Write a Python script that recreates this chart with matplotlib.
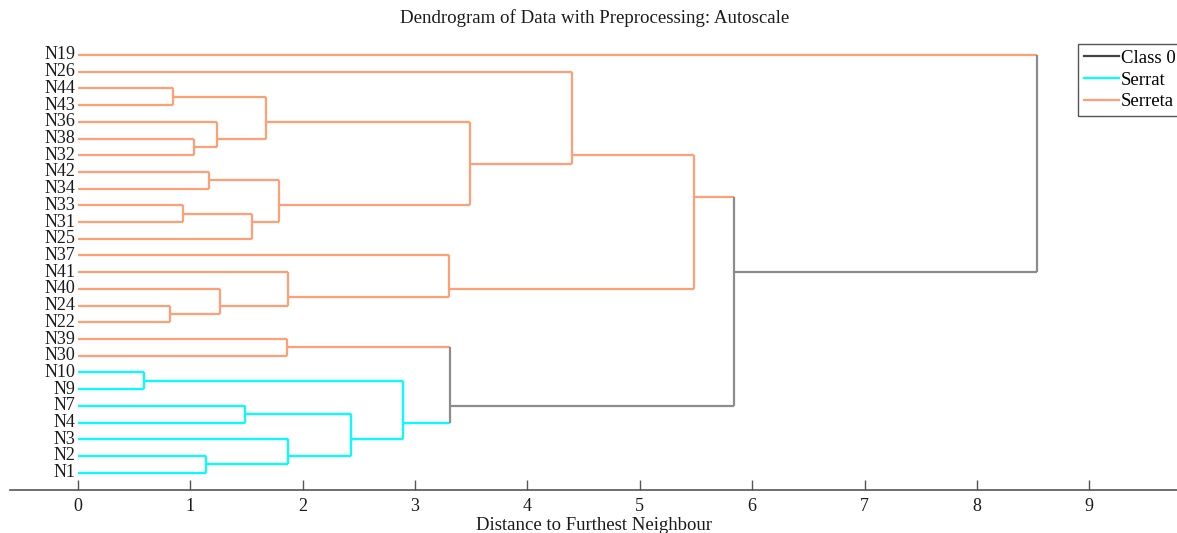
import matplotlib
matplotlib.use("Agg")
import matplotlib.pyplot as plt
from matplotlib.lines import Line2D

plt.rcParams['font.family'] = ['Liberation Serif', 'DejaVu Serif']

# leaves, top to bottom
leaves = ["N19", "N26", "N44", "N43", "N36", "N38", "N32", "N42", "N34", "N33",
          "N31", "N25", "N37", "N41", "N40", "N24", "N22", "N39", "N30", "N10",
          "N9", "N7", "N4", "N3", "N2", "N1"]
leaf_class = ["Serreta"] * 19 + ["Serrat"] * 7

# merges (scipy style ids: leaves 0..25, clusters from 26 on)
merge_a = [2, 5, 4, 26, 7, 9, 31, 30, 29, 1, 15, 14, 13, 12, 35, 17, 19, 21, 24, 23, 43, 42, 41, 40, 0]
merge_b = [3, 6, 27, 28, 8, 10, 11, 32, 33, 34, 16, 36, 37, 38, 39, 18, 20, 22, 25, 44, 45, 46, 47, 48, 49]
merge_h = [0.85, 1.035, 1.24, 1.673, 1.168, 0.934, 1.553, 1.788, 3.493, 4.395,
           0.82, 1.266, 1.874, 3.306, 5.48, 1.865, 0.59, 1.491, 1.139, 1.874,
           2.429, 2.897, 3.312, 5.839, 8.535]

colors = {"Class 0": "#8c8c8c", "Serrat": "#00ffff", "Serreta": "#ffa074"}
lw = 1.6

fig = plt.figure(figsize=(11.77, 5.33), dpi=100)
ax = fig.add_axes([10 / 1177, 1 - 490 / 533, 1 - 10 / 1177, 450 / 533])

n = len(leaves)
members = {i: [i] for i in range(n)}
hgt = {i: 0.0 for i in range(n)}
cls = {i: leaf_class[i] for i in range(n)}

def ypos(c):
    # cluster drawn at the mean of its leaf positions
    return sum(members[c]) / len(members[c])

for k, (a, b, h) in enumerate(zip(merge_a, merge_b, merge_h)):
    cid = n + k
    c = cls[a] if cls[a] == cls[b] else "Class 0"
    ya, yb = ypos(a), ypos(b)
    # horizontal arms coloured by child, vertical by parent
    ax.plot([hgt[a], h], [ya, ya], color=colors[cls[a]], lw=lw, solid_capstyle='butt')
    ax.plot([hgt[b], h], [yb, yb], color=colors[cls[b]], lw=lw, solid_capstyle='butt')
    ax.plot([h, h], [ya, yb], color=colors[c], lw=lw, solid_capstyle='butt')
    members[cid] = members[a] + members[b]
    hgt[cid] = h
    cls[cid] = c

for i, name in enumerate(leaves):
    ax.text(-0.02, i, name, ha='right', va='center', fontsize=13, color='#1a1a1a')

ax.set_xlim((10 - 77.7) / 112.4, (1177 - 77.7) / 112.4)
ax.set_ylim(25 + (490 - 472.7) / 16.71, -(55 - 40) / 16.71)
ax.set_xticks(range(10))
ax.set_yticks([])
for s in ['top', 'right', 'left']:
    ax.spines[s].set_visible(False)
ax.spines['bottom'].set_color('#555555')
ax.spines['bottom'].set_linewidth(1.2)
ax.tick_params(axis='x', direction='in', length=7, width=1, color='#555555',
               labelsize=13, labelcolor='#1a1a1a', pad=6)
ax.set_xlabel("Distance to Furthest Neighbour", fontsize=13.5, color='#1a1a1a', labelpad=1)
fig.text(0.505, 1 - 18 / 533, "Dendrogram of Data with Preprocessing: Autoscale",
         ha='center', va='center', fontsize=13.6, color='#1a1a1a')

handles = [Line2D([], [], color='#444444', lw=1.6),
           Line2D([], [], color=colors["Serrat"], lw=1.6),
           Line2D([], [], color=colors["Serreta"], lw=1.6)]
leg = fig.legend(handles, ["Class 0", "Serrat", "Serreta"], loc='upper left',
                 bbox_to_anchor=(1078 / 1177, 1 - 44 / 533), fontsize=13.5,
                 fancybox=False, edgecolor='#555555', framealpha=1,
                 handlelength=1.9, handletextpad=0.1, labelspacing=0.25,
                 borderpad=0.3, borderaxespad=0)
leg.get_frame().set_linewidth(1.0)

fig.savefig("out.png", dpi=100)
